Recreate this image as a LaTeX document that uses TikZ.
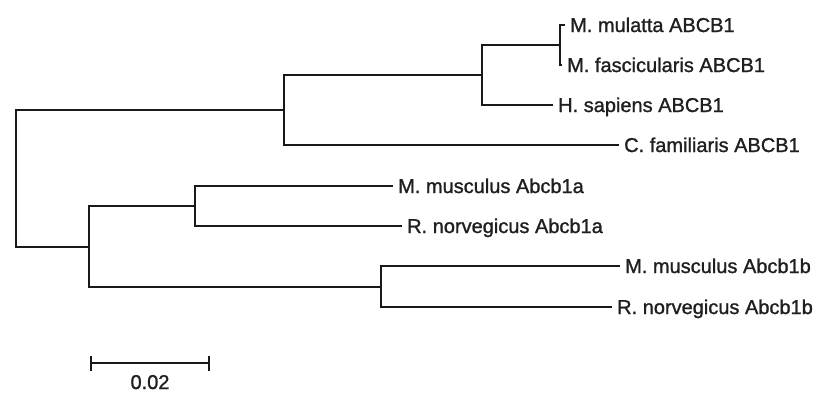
\documentclass[tikz,border=0pt]{standalone}
\usepackage{fontspec}
\setmainfont{Liberation Sans}
\newfontfamily\labelface[FakeBold=1.2]{Liberation Sans}
\begin{document}
\begin{tikzpicture}[x=1pt, y=-1pt,
  branch/.style={line width=2.5pt, draw=black!90, line join=miter},
  labelfont/.style={font=\labelface\fontsize{20}{23}\selectfont, text=black!88},
  taxon/.style={labelfont, anchor=west, inner xsep=5pt, inner ysep=0pt,
    text height=14pt, text depth=0pt},
  scalelabel/.style={labelfont, inner sep=0pt, text height=14pt, text depth=0pt}
]
\useasboundingbox[fill=white] (0,0) rectangle (814,392);

% internal nodes of the tree
\coordinate (r)  at (16,178);
\coordinate (n1) at (284,110);
\coordinate (n3) at (482,75);
\coordinate (n4) at (560,45);
\coordinate (n2) at (89,247);
\coordinate (n5) at (195,206);
\coordinate (n6) at (381,287);

% leaves
\node[taxon] (mul)  at (565,25)  {M. mulatta ABCB1};
\node[taxon] (fas)  at (562,65)  {M. fascicularis ABCB1};
\node[taxon] (sap)  at (553,105) {H. sapiens ABCB1};
\node[taxon] (fam)  at (619,145) {C. familiaris ABCB1};
\node[taxon] (musa) at (393,186) {M. musculus Abcb1a};
\node[taxon] (nora) at (402,226) {R. norvegicus Abcb1a};
\node[taxon] (musb) at (620,266) {M. musculus Abcb1b};
\node[taxon] (norb) at (612,307) {R. norvegicus Abcb1b};

% branches
\draw[branch] (mul.west) -| (n4) |- (fas.west);
\draw[branch] (n4) -| (n3) |- (sap.west);
\draw[branch] (n3) -| (n1) |- (fam.west);
\draw[branch] (n1) -| (r) |- (n2);
\draw[branch] (musa.west) -| (n5) |- (nora.west);
\draw[branch] (n5) -| (n2) |- (n6);
\draw[branch] (musb.west) -| (n6) |- (norb.west);

% scale bar
\coordinate (sbl) at (91,363);
\coordinate (sbr) at (209,363);
\draw[branch] (sbl) -- (sbr);
\draw[branch] ([yshift=7.5pt]sbl) -- ([yshift=-7.5pt]sbl);
\draw[branch] ([yshift=7.5pt]sbr) -- ([yshift=-7.5pt]sbr);
\node[scalelabel] (sbt) at (150,382) {0.02};
\end{tikzpicture}
\end{document}
